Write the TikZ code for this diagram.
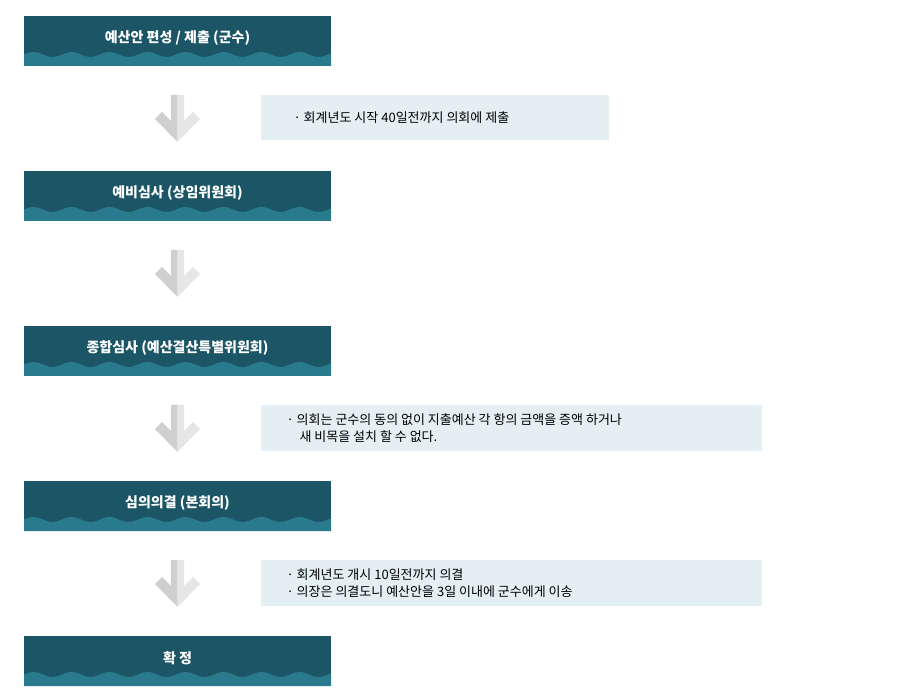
\documentclass[tikz,border=0pt]{standalone}
\usepackage{fontspec}
\setmainfont{Noto Sans CJK KR}
\definecolor{hdark}{HTML}{1B5566}
\definecolor{hlight}{HTML}{2A7A8E}
\definecolor{notebg}{HTML}{E3EFF3}
\definecolor{arrL}{HTML}{CFCFCF}
\definecolor{arrR}{HTML}{E6E6E6}
\tikzset{x=1pt,y=-1pt,
 htext/.style={text=white,font=\bfseries\fontsize{14}{16}\selectfont,anchor=center},
 ntext/.style={font=\fontsize{13}{17}\selectfont,anchor=west,align=left}}
\newcommand{\hdr}[3]{% name, top y, text
 \fill[hdark] (24,#2) rectangle (331,#2+50);
 \fill[hlight] (24,#2+50) -- plot[domain=24:331,samples=120,smooth] (\x,{#2+38.5-2.5*sin((\x-24)*9.4737)}) -- (331,#2+50) -- cycle;
 \node[htext] (#1) at (177.5,#2+22) {#3};}
\newcommand{\darr}[2]{% name, center y
 \coordinate (#1) at (177.5,#2);
 \fill[arrL] (171,#2-23) -- (177.5,#2-23) -- (177.5,#2+24) -- (155,#2+1) -- (162,#2-6) -- (171,#2+3) -- cycle;
 \fill[arrR] (177.5,#2-23) -- (184,#2-23) -- (184,#2+3) -- (193,#2-6) -- (200,#2+1) -- (177.5,#2+24) -- cycle;}
\begin{document}
\begin{tikzpicture}
\useasboundingbox (0,0) rectangle (900,700);
\hdr{h1}{16}{예산안 편성 / 제출 (군수)}
\hdr{h2}{171}{예비심사 (상임위원회)}
\hdr{h3}{326}{종합심사 (예산결산특별위원회)}
\hdr{h4}{481}{심의의결 (본회의)}
\hdr{h5}{636}{확 정}
\darr{a1}{118}
\darr{a2}{273}
\darr{a3}{428}
\darr{a4}{583}
\fill[notebg] (261,95) rectangle (609,140);
\node[ntext] (n1) at (290,118) {· 회계년도 시작 40일전까지 의회에 제출};
\fill[notebg] (261,405) rectangle (762,451);
\node[ntext] (n3) at (283,428) {· 의회는 군수의 동의 없이 지출예산 각 항의 금액을 증액 하거나\\\hspace{1em}새 비목을 설치 할 수 없다.};
\fill[notebg] (261,560) rectangle (762,606);
\node[ntext] (n4) at (283,583) {· 회계년도 개시 10일전까지 의결\\· 의장은 의결도니 예산안을 3일 이내에 군수에게 이송};
\end{tikzpicture}
\end{document}
